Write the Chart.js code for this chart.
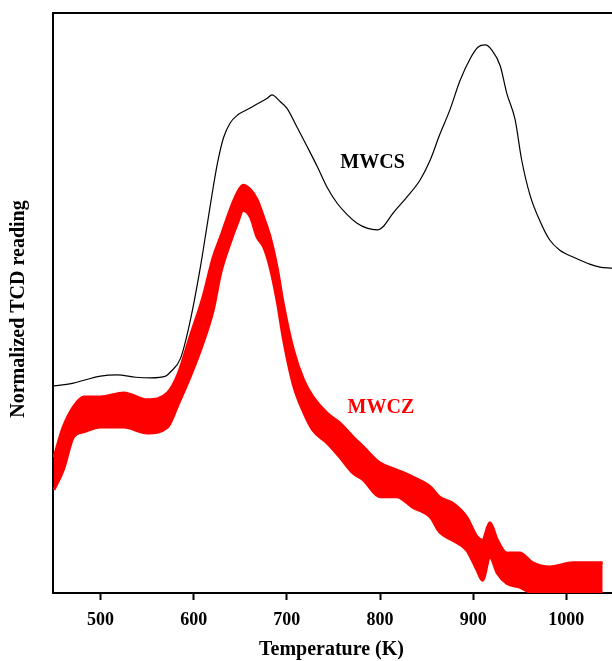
<!DOCTYPE html>
<html>
<head>
<meta charset="utf-8">
<script src="https://cdn.jsdelivr.net/npm/chart.js@4/dist/chart.umd.min.js"></script>
<style>
html,body{margin:0;padding:0;background:#fff;overflow:hidden;}
#wrap{width:612px;height:661px;}
</style>
</head>
<body>
<div id="wrap"><canvas id="c" width="612" height="661"></canvas></div>
<script>
// Temperature ticks (K)
const xTicks = [500, 600, 700, 800, 900, 1000];

// MWCS (black trace)
const mwcsT = [450,471,500,518,538,554,570,575,586,596,607,615,621,626,632,639,647,658,668,679,684,693,700,711,722,733,743,754,765,775,786,797,803,814,829,843,854,864,875,886,897,905,913,920,929,936,945,952,961,972,982,993,1009,1025,1036,1049];
const mwcsV = [35.7,36.2,37.4,37.6,37.2,37.1,37.4,38.1,40.5,46.7,56.0,64.0,70.0,74.5,78.5,81.0,82.4,83.4,84.3,85.3,85.9,84.7,83.6,80.3,76.9,73.4,70.0,67.2,65.2,63.8,62.9,62.6,63.1,65.5,68.3,71.2,74.7,79.0,83.3,88.4,92.2,94.1,94.5,93.6,90.9,86.2,81.6,74.7,68.6,64.0,60.9,59.1,57.8,56.7,56.2,56.0];

// MWCZ (red noisy trace) – upper and lower envelope of the band
const mwczT = [450,460,471,482,500,525,550,572,583,596,610,621,629,639,647,653,661,668,675,682,690,696,707,718,728,743,757,771,782,800,818,835,854,864,878,893,904,910,918,926,936,950,964,982,1007,1028,1039];
const mwczHigh = [23.4,28.6,32.1,33.8,33.8,34.5,33.3,34.5,37.6,44.1,51.0,57.9,61.4,66.0,69.0,70.3,69.5,67.8,64.8,61.4,55.7,50.0,41.9,36.7,33.8,31.0,29.3,26.9,25.2,22.4,21.2,20.0,18.3,16.5,15.5,13.1,9.7,9.1,12.1,9.1,6.9,6.9,5.2,4.5,5.2,5.2,5.2];
const mwczLow = [17.8,21.2,26.9,27.8,28.6,28.6,27.6,28.6,32.4,37.2,43.1,48.8,55.2,60.3,63.8,66.0,64.8,61.4,59.7,56.2,50.0,44.1,35.9,31.2,28.1,25.9,23.4,20.7,19.5,16.6,16.6,14.8,13.1,10.5,9.1,7.4,4.0,2.2,6.2,3.4,1.7,1.0,0,0,0,0,0];

// Curve labels
const labelNames = ['MWCS', 'MWCZ'];
const labelT = [792, 801];
const labelV = [74.1, 31.9];
const labelColors = ['#000000', '#ff0000'];

const pts = (xs, ys) => xs.map((x, i) => ({x: x, y: ys[i]}));
const FONT = "'Liberation Serif', 'Times New Roman', serif";

const framePlugin = {
  id: 'frame',
  afterDraw(chart) {
    const ctx = chart.ctx, a = chart.chartArea;
    const xs = chart.scales.x, ys = chart.scales.y;
    ctx.save();
    ctx.strokeStyle = '#000';
    ctx.lineWidth = 2;
    ctx.beginPath();
    ctx.moveTo(a.left - 1, a.top);
    ctx.lineTo(a.right + 2, a.top);
    ctx.stroke();
    ctx.font = 'bold 20px ' + FONT;
    ctx.textAlign = 'center';
    ctx.textBaseline = 'middle';
    labelNames.forEach((n, i) => {
      ctx.fillStyle = labelColors[i];
      ctx.fillText(n, xs.getPixelForValue(labelT[i]), ys.getPixelForValue(labelV[i]));
    });
    ctx.fillStyle = '#000';
    ctx.fillText('Temperature (K)', (a.left + a.right) / 2 - 1, 650);
    ctx.translate(19, (a.top + a.bottom) / 2 + 6);
    ctx.rotate(-Math.PI / 2);
    ctx.fillText('Normalized TCD reading', 0, 0);
    ctx.restore();
  }
};

new Chart(document.getElementById('c'), {
  type: 'line',
  data: {
    datasets: [
      {
        label: 'MWCS',
        data: pts(mwcsT, mwcsV),
        borderColor: '#000',
        borderWidth: 1.2,
        pointRadius: 0,
        cubicInterpolationMode: 'monotone',
        fill: false
      },
      {
        label: 'MWCZ high',
        data: pts(mwczT, mwczHigh),
        borderColor: '#ff0000',
        backgroundColor: '#ff0000',
        borderWidth: 3,
        pointRadius: 0,
        cubicInterpolationMode: 'monotone',
        fill: '+1'
      },
      {
        label: 'MWCZ low',
        data: pts(mwczT, mwczLow),
        borderColor: '#ff0000',
        borderWidth: 3,
        pointRadius: 0,
        cubicInterpolationMode: 'monotone',
        fill: false
      }
    ]
  },
  options: {
    responsive: false,
    animation: false,
    events: [],
    layout: { padding: { top: 13, left: 0, right: 0, bottom: 0 } },
    plugins: { legend: { display: false }, tooltip: { enabled: false } },
    scales: {
      x: {
        type: 'linear',
        min: 449,
        max: 1049,
        afterBuildTicks(scale) { scale.ticks = xTicks.map(v => ({ value: v })); },
        afterFit(scale) { scale.height = 68; },
        grid: { display: true, drawOnChartArea: false, drawTicks: true, tickLength: 7, tickWidth: 2, tickColor: '#000' },
        border: { display: true, color: '#000', width: 2 },
        ticks: { color: '#000', font: { family: FONT, size: 18, weight: 'bold' }, padding: 10, maxRotation: 0, callback: v => String(v) },
        title: { display: false }
      },
      y: {
        type: 'linear',
        min: 0,
        max: 100,
        afterFit(scale) { scale.width = 53; },
        grid: { display: false },
        border: { display: true, color: '#000', width: 2 },
        ticks: { display: false }
      }
    }
  },
  plugins: [framePlugin]
});
</script>
</body>
</html>
